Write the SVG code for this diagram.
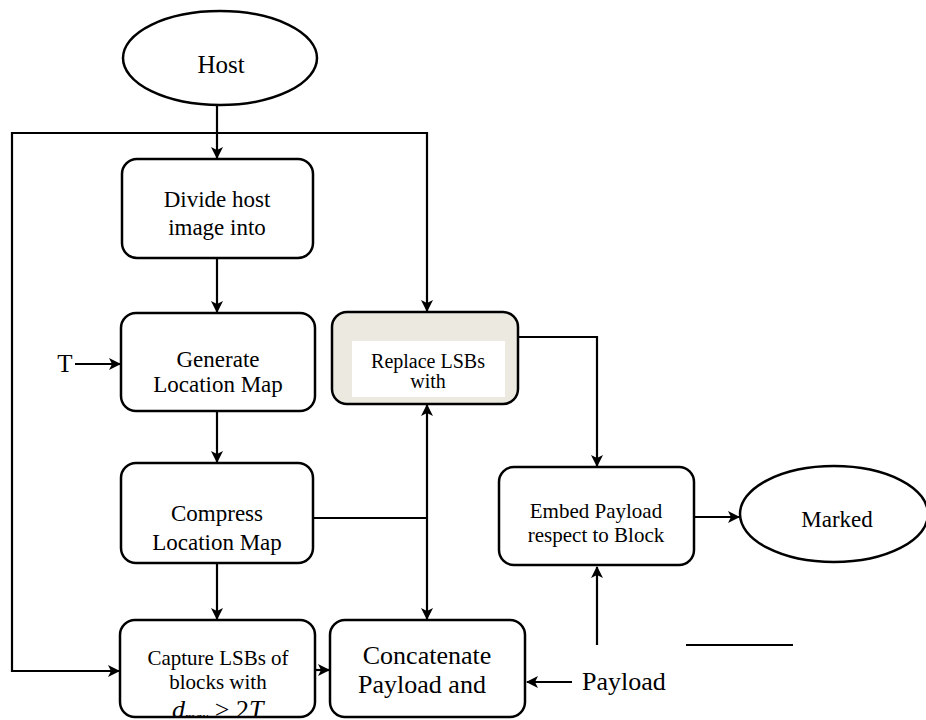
<svg xmlns="http://www.w3.org/2000/svg" width="926" height="720" viewBox="0 0 926 720">
<defs>
<style>
.box{fill:#fff;stroke:#000;stroke-width:2.5}
.t{font-family:"Liberation Serif","Times New Roman",serif;fill:#000;text-anchor:middle}
.ln{fill:none;stroke:#000;stroke-width:2.2}
</style>
<marker id="ah" viewBox="0 0 12 12" refX="11" refY="6" markerWidth="12" markerHeight="12" markerUnits="userSpaceOnUse" orient="auto">
<path d="M0,0 L12,6 L0,12 L3,6 Z" fill="#000"/>
</marker>
<clipPath id="capclip"><rect x="121" y="621" width="193" height="95"/></clipPath>
</defs>
<rect width="926" height="720" fill="#fff"/>
<g id="connectors">
<path class="ln" d="M217,104 V158" marker-end="url(#ah)"/>
<path class="ln" d="M217,133 H12 V671 H119" marker-end="url(#ah)"/>
<path class="ln" d="M217,133 H427 V311" marker-end="url(#ah)"/>
<path class="ln" d="M75,364 H120" marker-end="url(#ah)"/>
<path class="ln" d="M217,258 V312" marker-end="url(#ah)"/>
<path class="ln" d="M217,411 V462" marker-end="url(#ah)"/>
<path class="ln" d="M217,563 V619" marker-end="url(#ah)"/>
<path class="ln" d="M313,518 H427"/>
<path class="ln" d="M427,518 V405" marker-end="url(#ah)"/>
<path class="ln" d="M427,518 V619" marker-end="url(#ah)"/>
<path class="ln" d="M518,337 H597 V466" marker-end="url(#ah)"/>
<path class="ln" d="M694,517 H739" marker-end="url(#ah)"/>
<path class="ln" d="M315,670 H329" marker-end="url(#ah)"/>
<path class="ln" d="M572,682 H527" marker-end="url(#ah)"/>
<path class="ln" d="M597,645 V567" marker-end="url(#ah)"/>
<path class="ln" d="M686,645 H793"/>
</g>
<g id="host">
<ellipse cx="220" cy="58" rx="97" ry="47" fill="#fff" stroke="#000" stroke-width="2.5"/>
<text class="t" x="221" y="73" font-size="25">Host</text>
</g>
<g id="divide">
<rect class="box" x="122" y="159" width="191" height="99" rx="15"/>
<text class="t" x="217" y="207" font-size="23">Divide host</text>
<text class="t" x="217" y="235" font-size="23">image into</text>
</g>
<g id="generate">
<rect class="box" x="121" y="313" width="194" height="98" rx="15"/>
<text class="t" x="218" y="367" font-size="23">Generate</text>
<text class="t" x="218" y="392" font-size="23">Location Map</text>
</g>
<g id="t-input">
<text class="t" x="65" y="372" font-size="25">T</text>
</g>
<g id="compress">
<rect class="box" x="121" y="463" width="192" height="100" rx="15"/>
<text class="t" x="217" y="521" font-size="23">Compress</text>
<text class="t" x="217" y="550" font-size="23">Location Map</text>
</g>
<g id="capture">
<rect class="box" x="120" y="620" width="195" height="97" rx="15"/>
<text class="t" x="218" y="665" font-size="21">Capture LSBs of</text>
<text class="t" x="218" y="689" font-size="21">blocks with</text>
<text clip-path="url(#capclip)" font-family="Liberation Serif, serif" font-size="26" font-style="italic" y="718"><tspan x="172">d</tspan><tspan font-size="14" dy="4">max</tspan><tspan dy="-4" font-style="normal"> &gt; 2</tspan><tspan>T</tspan></text>
</g>
<g id="concatenate">
<rect class="box" x="330" y="620" width="195" height="97" rx="15"/>
<text class="t" x="427" y="664" font-size="26">Concatenate</text>
<text class="t" x="422" y="693" font-size="26">Payload and</text>
</g>
<g id="payload">
<text class="t" x="624" y="690" font-size="26">Payload</text>
</g>
<g id="replace">
<rect x="332" y="312" width="186" height="92" rx="15" fill="#ECEAE0" stroke="#000" stroke-width="2.5"/>
<rect x="352" y="341" width="153" height="56" fill="#fff"/>
<text class="t" x="428" y="368" font-size="20">Replace LSBs</text>
<text class="t" x="428" y="388" font-size="20">with</text>
</g>
<g id="embed">
<rect class="box" x="499" y="467" width="195" height="98" rx="15"/>
<text class="t" x="596" y="518" font-size="21">Embed Payload</text>
<text class="t" x="596" y="542" font-size="21">respect to Block</text>
</g>
<g id="marked">
<ellipse cx="834" cy="514" rx="94" ry="48" fill="#fff" stroke="#000" stroke-width="2.5"/>
<text class="t" x="837" y="527" font-size="23">Marked</text>
</g>
</svg>
